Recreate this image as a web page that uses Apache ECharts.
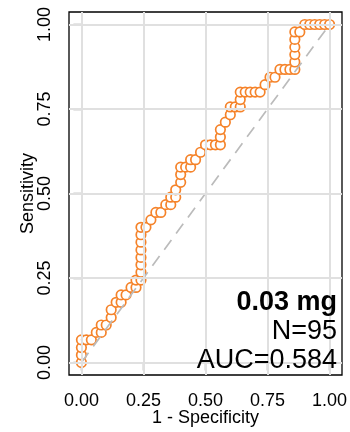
<!DOCTYPE html>
<html>
<head>
<meta charset="utf-8">
<script src="https://cdn.jsdelivr.net/npm/echarts@6/dist/echarts.min.js"></script>
<style>
  html, body { margin: 0; padding: 0; background: #ffffff; }
  #chart { width: 350px; height: 432px; }
</style>
</head>
<body>
<div id="chart"></div>
<script>
// ROC curve points: false positive rate (1 - specificity) and sensitivity
const falsePositiveRate = [
  0, 0, 0, 0, 0.02, 0.04, 0.06, 0.08, 0.08, 0.10,
  0.12, 0.12, 0.14, 0.16, 0.16, 0.18, 0.20, 0.22, 0.22, 0.24,
  0.24, 0.24, 0.24, 0.24, 0.24, 0.24, 0.24, 0.26, 0.28, 0.30,
  0.32, 0.34, 0.36, 0.36, 0.38, 0.38, 0.40, 0.40, 0.40, 0.42,
  0.44, 0.44, 0.46, 0.48, 0.50, 0.52, 0.54, 0.56, 0.56, 0.56,
  0.58, 0.60, 0.60, 0.62, 0.64, 0.64, 0.64, 0.66, 0.68, 0.70,
  0.72, 0.74, 0.76, 0.78, 0.80, 0.82, 0.84, 0.86, 0.86, 0.86,
  0.86, 0.86, 0.86, 0.88, 0.90, 0.92, 0.94, 0.96, 0.98, 1.00
];
const sensitivity = [
  0, 0.022, 0.044, 0.067, 0.067, 0.067, 0.089, 0.089, 0.111, 0.111,
  0.133, 0.156, 0.178, 0.178, 0.200, 0.200, 0.222, 0.222, 0.244, 0.244,
  0.267, 0.289, 0.311, 0.333, 0.356, 0.378, 0.400, 0.400, 0.422, 0.444,
  0.444, 0.467, 0.467, 0.489, 0.489, 0.511, 0.533, 0.556, 0.578, 0.578,
  0.578, 0.600, 0.600, 0.622, 0.644, 0.644, 0.644, 0.644, 0.667, 0.689,
  0.711, 0.733, 0.756, 0.756, 0.756, 0.778, 0.800, 0.800, 0.800, 0.800,
  0.800, 0.822, 0.844, 0.844, 0.867, 0.867, 0.867, 0.867, 0.889, 0.911,
  0.933, 0.956, 0.978, 0.978, 1.000, 1.000, 1.000, 1.000, 1.000, 1.000
];
// chance line
const chanceX = [0, 1];
const chanceY = [0, 1];

const tickValues = [0, 0.25, 0.5, 0.75, 1];
const tickLabels = ['0.00', '0.25', '0.50', '0.75', '1.00'];

const doseLabel = '0.03 mg';
const sampleSize = 95;
const aucValue = 0.584;

const curveColor = '#F5832A';
const font = '"Liberation Sans", Arial, Helvetica, sans-serif';

const labelFor = v => {
  const k = tickValues.findIndex(t => Math.abs(t - v) < 1e-9);
  return k >= 0 ? tickLabels[k] : '';
};

const rocData = falsePositiveRate.map((x, k) => [x, sensitivity[k]]);
const chanceData = chanceX.map((x, k) => [x, chanceY[k]]);

const chart = echarts.init(document.getElementById('chart'), null, { renderer: 'canvas' });

chart.setOption({
  animation: false,
  backgroundColor: '#ffffff',
  grid: {
    left: 69, top: 12, width: 273, height: 363,
    containLabel: false, outerBoundsMode: 'none',
    show: true, borderColor: '#000000', borderWidth: 1.3,
    backgroundColor: 'transparent'
  },
  xAxis: {
    type: 'value', min: -0.05, max: 1.05,
    axisLine: { show: false },
    axisTick: { show: true, customValues: tickValues, length: 8, lineStyle: { color: '#000', width: 1.2 } },
    axisLabel: {
      show: true, customValues: tickValues, formatter: labelFor,
      margin: 17, color: '#000', fontSize: 18, fontFamily: font
    },
    splitLine: { show: false },
    name: '1 - Specificity', nameLocation: 'middle', nameGap: 34, nameMoveOverlap: false,
    nameTextStyle: { color: '#000', fontSize: 18, fontFamily: font }
  },
  yAxis: {
    type: 'value', min: -0.037, max: 1.037,
    axisLine: { show: false },
    axisTick: { show: true, customValues: tickValues, length: 8, lineStyle: { color: '#000', width: 1.2 } },
    axisLabel: {
      show: true, customValues: tickValues, formatter: labelFor, rotate: 90,
      margin: 15, color: '#000', fontSize: 18, fontFamily: font
    },
    splitLine: { show: false },
    name: 'Sensitivity', nameLocation: 'middle', nameGap: 32, nameRotate: 90, nameMoveOverlap: false,
    nameTextStyle: { color: '#000', fontSize: 18, fontFamily: font }
  },
  series: [
    {
      // reference grid lines at the tick positions
      type: 'line', data: [], silent: true, z: 1,
      markLine: {
        silent: true, symbol: 'none', animation: false,
        label: { show: false },
        lineStyle: { color: '#e0e0e0', width: 2, type: 'solid' },
        data: tickValues.map(v => ({ xAxis: v })).concat(tickValues.map(v => ({ yAxis: v })))
      }
    },
    {
      type: 'line', data: rocData, z: 3,
      symbol: 'circle', symbolSize: 9.5, showSymbol: true,
      lineStyle: { color: curveColor, width: 1.3 },
      itemStyle: { color: '#ffffff', borderColor: curveColor, borderWidth: 1.7 },
      silent: true
    },
    {
      type: 'line', data: chanceData, z: 4, symbol: 'none', silent: true,
      lineStyle: { color: '#bbbbbb', width: 1.7, type: [12, 8] }
    }
  ],
  graphic: [
    {
      type: 'text', right: 13, top: 289, z: 10,
      style: { text: doseLabel, font: 'bold 27px ' + font, fill: '#000', textAlign: 'right' }
    },
    {
      type: 'text', right: 13, top: 318, z: 10,
      style: { text: 'N=' + sampleSize, font: '27px ' + font, fill: '#000', textAlign: 'right' }
    },
    {
      type: 'text', right: 13, top: 347, z: 10,
      style: { text: 'AUC=' + aucValue.toFixed(3), font: '27px ' + font, fill: '#000', textAlign: 'right' }
    }
  ]
});
</script>
</body>
</html>
